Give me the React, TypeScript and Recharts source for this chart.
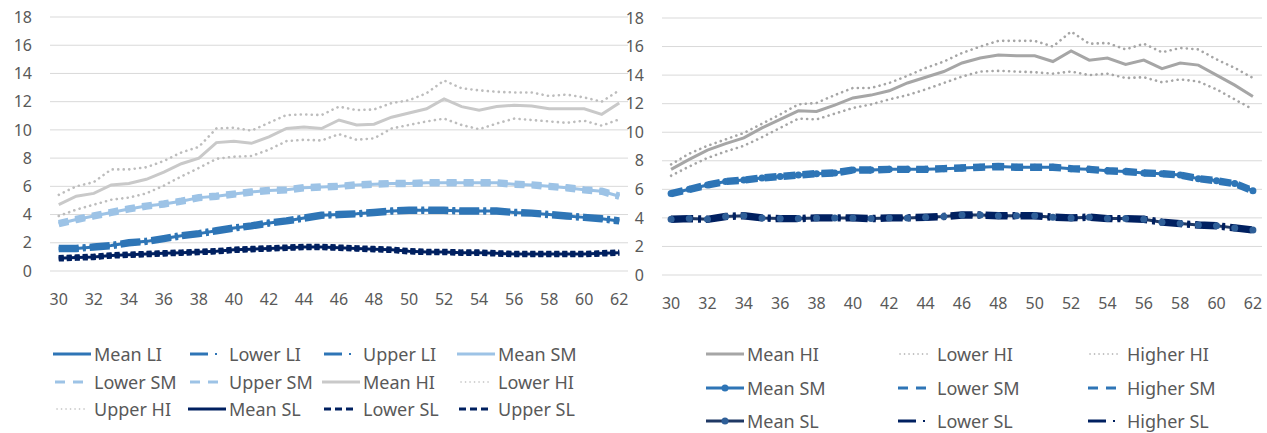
import { LineChart, Line, XAxis, YAxis, CartesianGrid } from "recharts";

const ages = [30, 31, 32, 33, 34, 35, 36, 37, 38, 39, 40, 41, 42, 43, 44, 45, 46, 47, 48, 49, 50, 51, 52, 53, 54, 55, 56, 57, 58, 59, 60, 61, 62];
const xTicks = [30, 32, 34, 36, 38, 40, 42, 44, 46, 48, 50, 52, 54, 56, 58, 60, 62];
const yTicks = [0, 2, 4, 6, 8, 10, 12, 14, 16, 18];

// left panel
const meanLI = [1.6, 1.6, 1.7, 1.8, 2.0, 2.1, 2.3, 2.5, 2.65, 2.85, 3.05, 3.2, 3.4, 3.55, 3.75, 3.95, 4.0, 4.05, 4.15, 4.25, 4.3, 4.3, 4.3, 4.25, 4.25, 4.25, 4.15, 4.1, 4.0, 3.9, 3.8, 3.7, 3.55];
const lowerLI = [1.55, 1.55, 1.65, 1.75, 1.95, 2.05, 2.25, 2.45, 2.6, 2.8, 3.0, 3.15, 3.35, 3.5, 3.7, 3.9, 3.95, 4.0, 4.1, 4.2, 4.25, 4.25, 4.25, 4.2, 4.2, 4.2, 4.1, 4.05, 3.95, 3.85, 3.75, 3.65, 3.5];
const upperLI = [1.65, 1.65, 1.75, 1.85, 2.05, 2.15, 2.35, 2.55, 2.7, 2.9, 3.1, 3.25, 3.45, 3.6, 3.8, 4.0, 4.05, 4.1, 4.2, 4.3, 4.35, 4.35, 4.35, 4.3, 4.3, 4.3, 4.2, 4.15, 4.05, 3.95, 3.85, 3.75, 3.6];
const meanSM = [3.35, 3.65, 3.9, 4.15, 4.4, 4.6, 4.75, 4.95, 5.2, 5.3, 5.45, 5.6, 5.7, 5.75, 5.9, 5.95, 6.0, 6.1, 6.15, 6.2, 6.2, 6.25, 6.25, 6.25, 6.25, 6.25, 6.15, 6.1, 6.0, 5.9, 5.75, 5.65, 5.3];
const lowerSM = [3.3, 3.6, 3.85, 4.1, 4.35, 4.55, 4.7, 4.9, 5.15, 5.25, 5.4, 5.55, 5.65, 5.7, 5.85, 5.9, 5.95, 6.05, 6.1, 6.15, 6.15, 6.2, 6.2, 6.2, 6.2, 6.2, 6.1, 6.05, 5.95, 5.85, 5.7, 5.6, 5.25];
const upperSM = [3.4, 3.7, 3.95, 4.2, 4.45, 4.65, 4.8, 5.0, 5.25, 5.35, 5.5, 5.65, 5.75, 5.8, 5.95, 6.0, 6.05, 6.15, 6.2, 6.25, 6.25, 6.3, 6.3, 6.3, 6.3, 6.3, 6.2, 6.15, 6.05, 5.95, 5.8, 5.7, 5.35];
const meanHI = [4.7, 5.3, 5.5, 6.1, 6.2, 6.5, 7.0, 7.6, 8.0, 9.1, 9.2, 9.05, 9.5, 10.1, 10.2, 10.1, 10.7, 10.35, 10.4, 10.9, 11.2, 11.5, 12.2, 11.65, 11.4, 11.65, 11.75, 11.7, 11.5, 11.5, 11.5, 11.1, 11.9];
const lowerHI = [3.9, 4.35, 4.7, 5.05, 5.2, 5.5, 6.05, 6.7, 7.3, 7.95, 8.1, 8.15, 8.6, 9.2, 9.3, 9.25, 9.7, 9.3, 9.4, 10.1, 10.35, 10.6, 10.8, 10.35, 10.05, 10.45, 10.8, 10.7, 10.6, 10.5, 10.65, 10.3, 10.75];
const upperHI = [5.4, 6.0, 6.3, 7.2, 7.2, 7.35, 7.8, 8.4, 8.8, 10.1, 10.15, 9.95, 10.5, 11.05, 11.1, 11.05, 11.65, 11.4, 11.45, 11.9, 12.1, 12.6, 13.5, 12.95, 12.8, 12.7, 12.65, 12.65, 12.4, 12.5, 12.3, 12.0, 12.8];
const meanSL = [0.9, 0.95, 1.0, 1.1, 1.15, 1.2, 1.25, 1.3, 1.35, 1.4, 1.5, 1.55, 1.6, 1.65, 1.7, 1.7, 1.65, 1.6, 1.55, 1.5, 1.4, 1.35, 1.35, 1.3, 1.3, 1.25, 1.2, 1.2, 1.2, 1.2, 1.2, 1.25, 1.3];
const lowerSL = [0.88, 0.93, 0.98, 1.08, 1.13, 1.18, 1.23, 1.28, 1.33, 1.38, 1.48, 1.53, 1.58, 1.63, 1.68, 1.68, 1.63, 1.58, 1.53, 1.48, 1.38, 1.33, 1.33, 1.28, 1.28, 1.23, 1.18, 1.18, 1.18, 1.18, 1.18, 1.23, 1.28];
const upperSL = [0.92, 0.97, 1.02, 1.12, 1.17, 1.22, 1.27, 1.32, 1.37, 1.42, 1.52, 1.57, 1.62, 1.67, 1.72, 1.72, 1.67, 1.62, 1.57, 1.52, 1.42, 1.37, 1.37, 1.32, 1.32, 1.27, 1.22, 1.22, 1.22, 1.22, 1.22, 1.27, 1.32];

// right panel
const meanHIR = [7.4, 8.1, 8.75, 9.2, 9.6, 10.3, 10.9, 11.5, 11.45, 11.9, 12.4, 12.6, 12.9, 13.45, 13.85, 14.25, 14.85, 15.2, 15.4, 15.35, 15.35, 14.95, 15.7, 15.05, 15.2, 14.75, 15.05, 14.45, 14.85, 14.7, 14.0, 13.3, 12.5];
const lowerHIR = [6.95, 7.6, 8.2, 8.65, 9.05, 9.65, 10.3, 10.95, 10.9, 11.3, 11.7, 11.95, 12.3, 12.6, 13.0, 13.45, 13.9, 14.25, 14.3, 14.25, 14.2, 14.1, 14.25, 14.0, 14.1, 13.8, 13.85, 13.5, 13.7, 13.55, 13.0, 12.3, 11.6];
const higherHIR = [7.75, 8.5, 9.05, 9.5, 9.95, 10.6, 11.25, 11.95, 12.05, 12.6, 13.1, 13.1, 13.45, 13.95, 14.5, 14.95, 15.55, 16.0, 16.4, 16.4, 16.4, 16.0, 17.05, 16.2, 16.25, 15.8, 16.2, 15.6, 15.9, 15.8, 15.1, 14.5, 13.8];
const meanSMR = [5.7, 6.0, 6.3, 6.55, 6.65, 6.8, 6.9, 7.0, 7.1, 7.15, 7.35, 7.35, 7.4, 7.4, 7.4, 7.45, 7.5, 7.55, 7.6, 7.55, 7.55, 7.55, 7.45, 7.4, 7.3, 7.25, 7.15, 7.1, 7.0, 6.75, 6.6, 6.4, 5.9];
const lowerSMR = [5.65, 5.95, 6.25, 6.5, 6.6, 6.75, 6.85, 6.95, 7.05, 7.1, 7.3, 7.3, 7.35, 7.35, 7.35, 7.4, 7.45, 7.5, 7.55, 7.5, 7.5, 7.5, 7.4, 7.35, 7.25, 7.2, 7.1, 7.05, 6.95, 6.7, 6.55, 6.35, 5.85];
const higherSMR = [5.75, 6.05, 6.35, 6.6, 6.7, 6.85, 6.95, 7.05, 7.15, 7.2, 7.4, 7.4, 7.45, 7.45, 7.45, 7.5, 7.55, 7.6, 7.65, 7.6, 7.6, 7.6, 7.5, 7.45, 7.35, 7.3, 7.2, 7.15, 7.05, 6.8, 6.65, 6.45, 5.95];
const meanSLR = [3.9, 3.95, 3.9, 4.1, 4.15, 4.0, 3.95, 3.95, 4.0, 4.0, 4.0, 3.95, 4.0, 4.0, 4.05, 4.1, 4.2, 4.2, 4.15, 4.15, 4.15, 4.05, 4.0, 4.05, 3.95, 3.95, 3.9, 3.7, 3.6, 3.5, 3.45, 3.3, 3.15];
const lowerSLR = [3.85, 3.9, 3.85, 4.05, 4.1, 3.95, 3.9, 3.9, 3.95, 3.95, 3.95, 3.9, 3.95, 3.95, 4.0, 4.05, 4.15, 4.15, 4.1, 4.1, 4.1, 4.0, 3.95, 4.0, 3.9, 3.9, 3.85, 3.65, 3.55, 3.45, 3.4, 3.25, 3.1];
const higherSLR = [3.95, 4.0, 3.95, 4.15, 4.2, 4.05, 4.0, 4.0, 4.05, 4.05, 4.05, 4.0, 4.05, 4.05, 4.1, 4.15, 4.25, 4.25, 4.2, 4.2, 4.2, 4.1, 4.05, 4.1, 4.0, 4.0, 3.95, 3.75, 3.65, 3.55, 3.5, 3.35, 3.2];

const leftData = ages.map((age, i) => ({
  age,
  meanLI: meanLI[i], lowerLI: lowerLI[i], upperLI: upperLI[i],
  meanSM: meanSM[i], lowerSM: lowerSM[i], upperSM: upperSM[i],
  meanHI: meanHI[i], lowerHI: lowerHI[i], upperHI: upperHI[i],
  meanSL: meanSL[i], lowerSL: lowerSL[i], upperSL: upperSL[i],
}));

const rightData = ages.map((age, i) => ({
  age,
  meanHI: meanHIR[i], lowerHI: lowerHIR[i], higherHI: higherHIR[i],
  meanSM: meanSMR[i], lowerSM: lowerSMR[i], higherSM: higherSMR[i],
  meanSL: meanSLR[i], lowerSL: lowerSLR[i], higherSL: higherSLR[i],
}));

const LI = "#2E75B6";
const SM_LIGHT = "#9DC3E6";
const NAVY = "#002060";
const GRAY_L = "#C9C9C9";
const GRAY_R = "#A6A6A6";
const TEXT = "#595959";

type Kind = "solid" | "dashDot" | "dash" | "dot" | "shortDash" | "marker";
type Series = { key: string; name: string; color: string; kind: Kind; dash?: string; markerFill?: string };

const leftSeries: Series[] = [
  { key: "meanLI", name: "Mean LI", color: LI, kind: "solid" },
  { key: "lowerLI", name: "Lower LI", color: LI, kind: "dashDot", dash: "20 4 3 4" },
  { key: "upperLI", name: "Upper LI", color: LI, kind: "dashDot", dash: "20 4 3 4" },
  { key: "meanSM", name: "Mean SM", color: SM_LIGHT, kind: "solid" },
  { key: "lowerSM", name: "Lower SM", color: SM_LIGHT, kind: "dash", dash: "10 7" },
  { key: "upperSM", name: "Upper SM", color: SM_LIGHT, kind: "dash", dash: "10 7" },
  { key: "meanHI", name: "Mean HI", color: GRAY_L, kind: "solid" },
  { key: "lowerHI", name: "Lower HI", color: "#BDBDBD", kind: "dot" },
  { key: "upperHI", name: "Upper HI", color: "#BDBDBD", kind: "dot" },
  { key: "meanSL", name: "Mean SL", color: NAVY, kind: "solid" },
  { key: "lowerSL", name: "Lower SL", color: NAVY, kind: "shortDash", dash: "5 3" },
  { key: "upperSL", name: "Upper SL", color: NAVY, kind: "shortDash", dash: "5 3" },
];

const rightSeries: Series[] = [
  { key: "meanHI", name: "Mean HI", color: GRAY_R, kind: "solid" },
  { key: "lowerHI", name: "Lower HI", color: GRAY_R, kind: "dot" },
  { key: "higherHI", name: "Higher HI", color: GRAY_R, kind: "dot" },
  { key: "meanSM", name: "Mean SM", color: LI, kind: "marker", markerFill: LI },
  { key: "lowerSM", name: "Lower SM", color: LI, kind: "dash", dash: "12 7" },
  { key: "higherSM", name: "Higher SM", color: LI, kind: "dash", dash: "12 7" },
  { key: "meanSL", name: "Mean SL", color: "#1F3864", kind: "marker", markerFill: "#2F5F98" },
  { key: "lowerSL", name: "Lower SL", color: NAVY, kind: "dashDot", dash: "22 5 3 5" },
  { key: "higherSL", name: "Higher SL", color: NAVY, kind: "dashDot", dash: "22 5 3 5" },
];

function lineProps(s: Series) {
  switch (s.kind) {
    case "solid":
    case "marker":
      return { strokeWidth: 3 };
    case "dashDot":
    case "dash":
    case "shortDash":
      return { strokeWidth: 6, strokeDasharray: s.dash };
    case "dot":
      return { strokeWidth: 2.6, strokeDasharray: "0.1 5.4", strokeLinecap: "round" as const };
  }
}

function Panel({ data, series, width, height, yWidth, top, right }: {
  data: object[]; series: Series[]; width: number; height: number; yWidth: number; top: number; right: number;
}) {
  return (
    <LineChart width={width} height={height} data={data} margin={{ top, right, left: 0, bottom: 0 }}>
      <CartesianGrid vertical={false} stroke="#D9D9D9" strokeWidth={1} />
      <XAxis
        dataKey="age"
        type="number"
        domain={[29.5, 62.5]}
        ticks={xTicks}
        interval={0}
        axisLine={false}
        tickLine={false}
        tickMargin={17}
        height={49}
        tick={{ fill: TEXT, fontSize: 16 }}
      />
      <YAxis
        domain={[0, 18]}
        ticks={yTicks}
        interval={0}
        axisLine={false}
        tickLine={false}
        tickMargin={12}
        width={yWidth}
        tick={{ fill: TEXT, fontSize: 16 }}
      />
      {series.map((s) => (
        <Line
          key={s.key}
          dataKey={s.key}
          name={s.name}
          type="linear"
          stroke={s.color}
          {...lineProps(s)}
          dot={s.kind === "marker" ? { r: 3.5, fill: s.markerFill, stroke: s.markerFill, strokeWidth: 0 } : false}
          isAnimationActive={false}
        />
      ))}
    </LineChart>
  );
}

function LegendIcon({ s }: { s: Series }) {
  const w = 38;
  const y = 7;
  let body;
  if (s.kind === "solid") {
    body = <line x1={0} y1={y} x2={w} y2={y} stroke={s.color} strokeWidth={3} />;
  } else if (s.kind === "marker") {
    body = (
      <>
        <line x1={0} y1={y} x2={w} y2={y} stroke={s.color} strokeWidth={3} />
        <circle cx={w / 2} cy={y} r={3.5} fill={s.markerFill} />
      </>
    );
  } else if (s.kind === "dashDot") {
    body = (
      <>
        <line x1={2} y1={y} x2={20} y2={y} stroke={s.color} strokeWidth={3} />
        <line x1={27} y1={y} x2={29} y2={y} stroke={s.color} strokeWidth={2} />
      </>
    );
  } else if (s.kind === "dash") {
    body = <line x1={2} y1={y} x2={32} y2={y} stroke={s.color} strokeWidth={3} strokeDasharray="10 8" />;
  } else if (s.kind === "shortDash") {
    body = <line x1={2} y1={y} x2={34} y2={y} stroke={s.color} strokeWidth={3} strokeDasharray="7 4" />;
  } else {
    body = <line x1={4} y1={y} x2={32} y2={y} stroke={s.color} strokeWidth={1.6} strokeDasharray="0.1 4.4" strokeLinecap="round" />;
  }
  return (
    <svg width={w} height={14} style={{ display: "block", flex: "0 0 auto" }}>
      {body}
    </svg>
  );
}

function LegendGrid({ series, cols, rows }: { series: Series[]; cols: number[]; rows: number[] }) {
  return (
    <>
      {series.map((s, i) => (
        <div
          key={s.key}
          style={{
            position: "absolute",
            left: cols[i % cols.length],
            top: rows[Math.floor(i / cols.length)] - 11,
            height: 22,
            lineHeight: "22px",
            display: "flex",
            alignItems: "center",
            whiteSpace: "nowrap",
            fontSize: 18,
            color: TEXT,
          }}
        >
          <LegendIcon s={s} />
          <span style={{ marginLeft: 3 }}>{s.name}</span>
        </div>
      ))}
    </>
  );
}

export default function App() {
  return (
    <div
      style={{
        position: "absolute",
        left: 0,
        top: 0,
        width: 1267,
        height: 433,
        background: "#fff",
        fontFamily: "'Noto Sans', 'Open Sans', sans-serif",
        overflow: "hidden",
      }}
    >
      <div style={{ position: "absolute", left: 0, top: 0 }}>
        <Panel data={leftData} series={leftSeries} width={640} height={320} yWidth={50} top={17} right={12} />
      </div>
      <div style={{ position: "absolute", left: 620, top: 0 }}>
        <Panel data={rightData} series={rightSeries} width={647} height={324} yWidth={42} top={18} right={5} />
      </div>
      <LegendGrid series={leftSeries} cols={[53, 188, 322, 457]} rows={[354, 382, 409]} />
      <LegendGrid series={rightSeries} cols={[706, 896, 1086]} rows={[354, 388, 421]} />
    </div>
  );
}
